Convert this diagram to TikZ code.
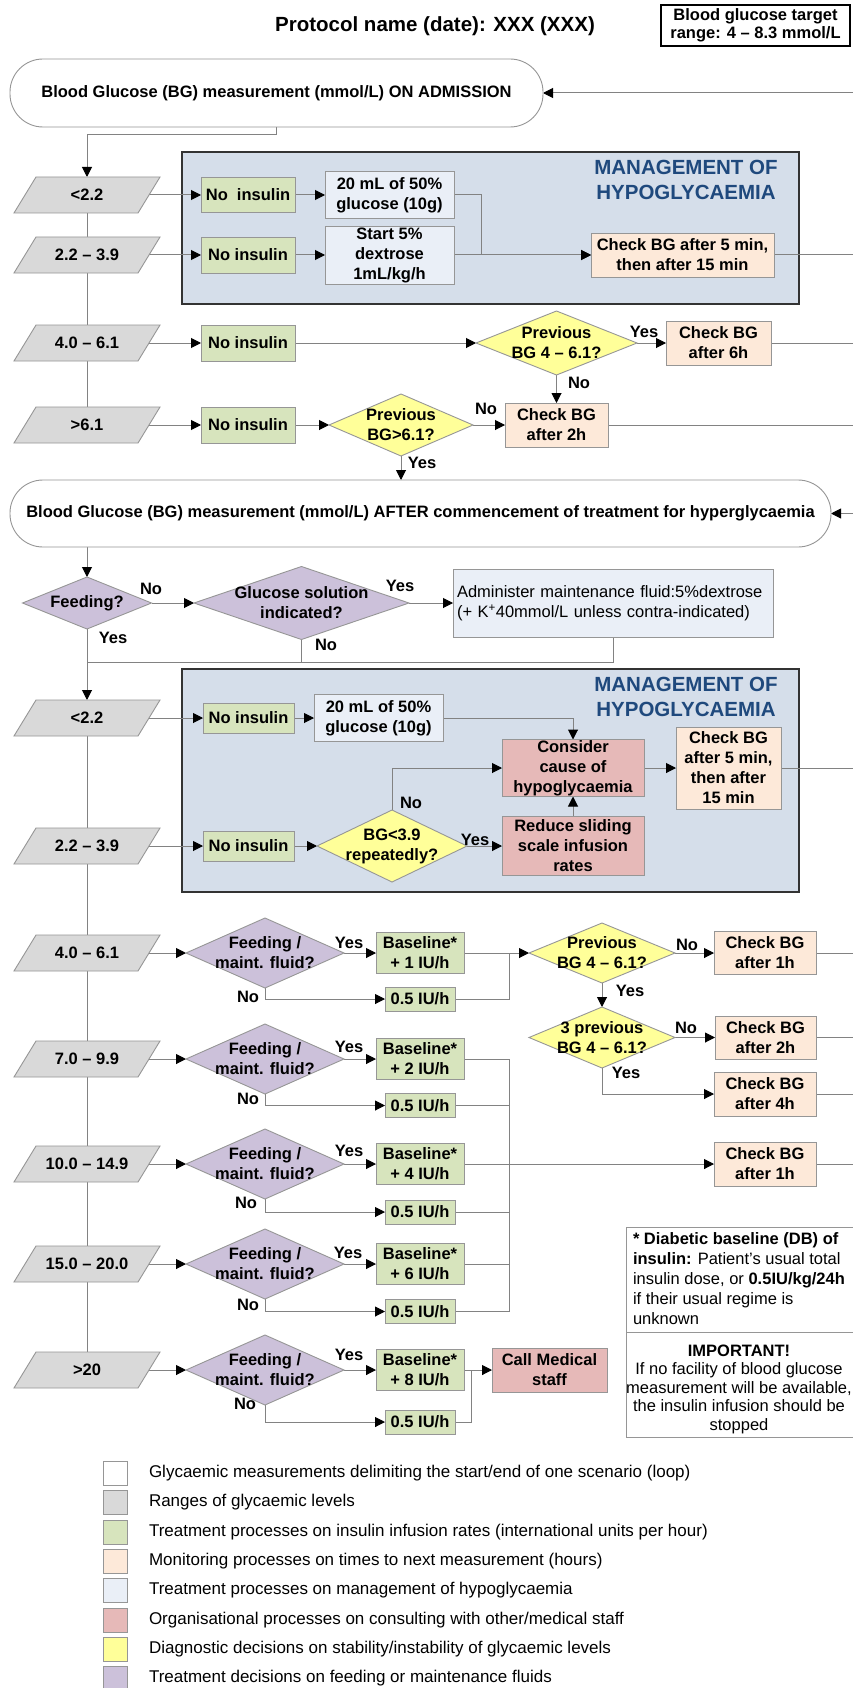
\documentclass[tikz,border=0pt]{standalone}
\usepackage{fontspec}
\setmainfont{Liberation Sans}
\usetikzlibrary{arrows.meta,calc}
\definecolor{linegrey}{RGB}{130,130,130}
\definecolor{bordergrey}{RGB}{150,150,150}
\definecolor{cgreen}{HTML}{D7E4BD}
\definecolor{cgrey}{HTML}{D9D9D9}
\definecolor{cpeach}{HTML}{FDE9D9}
\definecolor{clblue}{HTML}{EAEFF7}
\definecolor{cred}{HTML}{E6B9B8}
\definecolor{cyellow}{HTML}{FFFF99}
\definecolor{cpurple}{HTML}{CCC1DA}
\definecolor{hypofill}{HTML}{D5DEEA}
\definecolor{hypoblue}{HTML}{1F497D}
\pgfdeclarelayer{back}
\pgfdeclarelayer{mid}
\pgfsetlayers{back,mid,main}
\newcommand\fsz[2]{\fontsize{#1}{#2}\selectfont}
\newcommand\rangebox[3]{%
  \fill[cgrey,draw=bordergrey,line width=0.9pt] (14,#2+18) -- (36,#2-18) -- (160,#2-18) -- (138,#2+18) -- cycle;
  \node[txt,minimum width=124,minimum height=36] (#1) at (87,#2) {#3};}
\newcommand\diam[7]{%
  \fill[#6,draw=bordergrey,line width=0.9pt] (#2-#4/2,#3) -- (#2,#3-#5/2) -- (#2+#4/2,#3) -- (#2,#3+#5/2) -- cycle;
  \node[txt,minimum width=#4,minimum height=#5] (#1) at (#2,#3) {#7};}
\tikzset{
  every node/.style={inner sep=0pt,outer sep=0pt},
  txt/.style={font=\bfseries\fsz{16.5}{20},align=center},
  bx/.style={txt,draw=bordergrey,line width=0.9pt},
  gbox/.style={bx,fill=cgreen},
  pbox/.style={bx,fill=cpeach},
  lbbox/.style={bx,fill=clblue},
  rbox/.style={bx,fill=cred},
  lbl/.style={font=\bfseries\fsz{16.5}{20}},
  conn/.style={draw=linegrey,line width=1pt},
  flow/.style={conn,-{Triangle[length=10pt,width=10pt,color=black]}},
  hypo/.style={draw=black!80,line width=1.8pt,fill=hypofill},
  hypotitle/.style={font=\bfseries\fsz{20.5}{25},text=hypoblue,align=center},
  startnode/.style={txt,draw=bordergrey,line width=0.9pt,fill=white,rounded corners=33},
  leg/.style={draw=bordergrey,line width=0.9pt,minimum width=24,minimum height=24},
  legtxt/.style={font=\fsz{17}{20},anchor=west},
}
\begin{document}
\begin{tikzpicture}[x=1pt,y=-1pt]
\useasboundingbox (0,0) rectangle (853,1688);
\coordinate (edge) at (853,0);

% title and target
\node[font=\bfseries\fsz{20.5}{24}] (title) at (435,26) {Protocol name (date): XXX (XXX)};
\node[draw=black,line width=2.5pt,minimum width=189,minimum height=41,font=\bfseries\fsz{16.5}{18},align=center] (target) at (755.5,25.5) {Blood glucose target\\range: 4 – 8.3 mmol/L};

% hypo boxes
\begin{pgfonlayer}{back}
\fill[white] (0,0) rectangle (853,1688);
\node[hypo,minimum width=617,minimum height=152] (hypoA) at (490.5,228) {};
\node[hypo,minimum width=617,minimum height=223] (hypoB) at (490.5,780.5) {};
\end{pgfonlayer}
\node[hypotitle] (hypoAt) at (686,180) {MANAGEMENT OF\\HYPOGLYCAEMIA};
\node[hypotitle] (hypoBt) at (686,697) {MANAGEMENT OF\\HYPOGLYCAEMIA};

% start nodes
\node[startnode,minimum width=533,minimum height=68] (start1) at (276.5,93) {Blood Glucose (BG) measurement (mmol/L) ON ADMISSION};
\node[startnode,minimum width=821,minimum height=67] (start2) at (420.5,513.5) {Blood Glucose (BG) measurement (mmol/L) AFTER commencement of treatment for hyperglycaemia};

% section A
\rangebox{rangeA1}{195}{<2.2}
\rangebox{rangeA2}{255}{2.2 – 3.9}
\rangebox{rangeA3}{343}{4.0 – 6.1}
\rangebox{rangeA4}{425}{>6.1}
\node[gbox,minimum width=94,minimum height=35] (noinsA1) at (248,195) {No\ \ insulin};
\node[gbox,minimum width=94,minimum height=36] (noinsA2) at (248,255) {No insulin};
\node[lbbox,minimum width=129,minimum height=47] (glucA) at (389.5,195) {20 mL of 50\%\\glucose (10g)};
\node[lbbox,minimum width=129,minimum height=58] (dexA) at (389.5,255) {Start 5\%\\dextrose\\1mL/kg/h};
\node[pbox,minimum width=183,minimum height=44] (checkA) at (682.5,255) {Check BG after 5 min,\\then after 15 min};
\node[gbox,minimum width=94,minimum height=36] (noinsA3) at (248,343) {No insulin};
\diam{prevA}{556.5}{343}{161}{64}{cyellow}{Previous\\BG 4 – 6.1?}
\node[pbox,minimum width=105,minimum height=44] (check6) at (718.5,343) {Check BG\\after 6h};
\node[gbox,minimum width=94,minimum height=36] (noinsA4) at (248,425) {No insulin};
\diam{prevB}{401}{425}{144}{62}{cyellow}{Previous\\BG>6.1?}
\node[pbox,minimum width=103,minimum height=44] (check2h) at (556.5,425) {Check BG\\after 2h};

% feeding section
\diam{feedQ}{87}{603}{129}{52}{cpurple}{Feeding?}
\diam{glucQ}{301.5}{603}{215}{73}{cpurple}{Glucose solution\\indicated?}
\node[lbbox,font=\fsz{16.5}{20},align=left,text width=312,minimum width=320,minimum height=68] (admin) at (613,603) {Administer maintenance fluid:5\%dextrose\\(+ K\textsuperscript{+}40mmol/L unless contra-indicated)};
\coordinate (joinB) at (87,662);

% section B
\rangebox{rangeB1}{718}{<2.2}
\rangebox{rangeB2}{846}{2.2 – 3.9}
\node[gbox,minimum width=91,minimum height=30] (noinsB1) at (248.5,718) {No insulin};
\node[lbbox,minimum width=129,minimum height=47] (glucB) at (378.5,718) {20 mL of 50\%\\glucose (10g)};
\node[rbox,minimum width=142,minimum height=57] (consider) at (573,768) {Consider\\cause of\\hypoglycaemia};
\node[pbox,minimum width=105,minimum height=82] (checkB) at (728.5,768) {Check BG\\after 5 min,\\then after\\15 min};
\node[gbox,minimum width=91,minimum height=30] (noinsB2) at (248.5,846) {No insulin};
\diam{bgQ}{392}{846}{150}{72}{cyellow}{BG<3.9\\repeatedly?}
\node[rbox,minimum width=142,minimum height=59] (reduce) at (573,846) {Reduce sliding\\scale infusion\\rates};

% section C
\rangebox{rangeC1}{953}{4.0 – 6.1}
\rangebox{rangeC2}{1059}{7.0 – 9.9}
\rangebox{rangeC3}{1164}{10.0 – 14.9}
\rangebox{rangeC4}{1264}{15.0 – 20.0}
\rangebox{rangeC5}{1370}{>20}
\diam{feedC1}{265}{953}{158}{70}{cpurple}{Feeding /\\maint. fluid?}
\diam{feedC2}{265}{1059}{158}{70}{cpurple}{Feeding /\\maint. fluid?}
\diam{feedC3}{265}{1164}{158}{70}{cpurple}{Feeding /\\maint. fluid?}
\diam{feedC4}{265}{1264}{158}{70}{cpurple}{Feeding /\\maint. fluid?}
\diam{feedC5}{265}{1370}{158}{70}{cpurple}{Feeding /\\maint. fluid?}
\node[gbox,minimum width=88,minimum height=41] (baseC1) at (420,953) {Baseline*\\+ 1 IU/h};
\node[gbox,minimum width=88,minimum height=41] (baseC2) at (420,1059) {Baseline*\\+ 2 IU/h};
\node[gbox,minimum width=88,minimum height=41] (baseC3) at (420,1164) {Baseline*\\+ 4 IU/h};
\node[gbox,minimum width=88,minimum height=41] (baseC4) at (420,1264) {Baseline*\\+ 6 IU/h};
\node[gbox,minimum width=88,minimum height=41] (baseC5) at (420,1370) {Baseline*\\+ 8 IU/h};
\node[gbox,minimum width=70,minimum height=24] (halfC1) at (420,999) {0.5 IU/h};
\node[gbox,minimum width=70,minimum height=24] (halfC2) at (420,1105.5) {0.5 IU/h};
\node[gbox,minimum width=70,minimum height=24] (halfC3) at (420,1212) {0.5 IU/h};
\node[gbox,minimum width=70,minimum height=24] (halfC4) at (420,1311.5) {0.5 IU/h};
\node[gbox,minimum width=70,minimum height=24] (halfC5) at (420,1422) {0.5 IU/h};
\diam{prevC}{602}{953}{146}{60}{cyellow}{Previous\\BG 4 – 6.1?}
\diam{prev3}{602}{1037.5}{146}{61}{cyellow}{3 previous\\BG 4 – 6.1?}
\node[pbox,minimum width=102,minimum height=43] (check1h) at (765,953) {Check BG\\after 1h};
\node[pbox,minimum width=101,minimum height=43] (check2hb) at (765.5,1037.5) {Check BG\\after 2h};
\node[pbox,minimum width=102,minimum height=44] (check4h) at (765,1094) {Check BG\\after 4h};
\node[pbox,minimum width=102,minimum height=44] (check1hb) at (765,1164) {Check BG\\after 1h};
\node[rbox,minimum width=115,minimum height=44] (call) at (549.5,1370) {Call Medical\\staff};
\coordinate (busC1) at (509,953);
\coordinate (busT) at (509,1059);
\coordinate (busB) at (509,1311.5);
\coordinate (jC5) at (471,1370);

% labels
\node[lbl] (y1) at (644,332) {Yes};
\node[lbl] (n1) at (579,383) {No};
\node[lbl] (n2) at (486,409) {No};
\node[lbl] (y2) at (422,463) {Yes};
\node[lbl] (n3) at (151,589) {No};
\node[lbl] (y3) at (400,586) {Yes};
\node[lbl] (y4) at (113,638) {Yes};
\node[lbl] (n4) at (326,645) {No};
\node[lbl] (n5) at (411,803) {No};
\node[lbl] (y5) at (475,840) {Yes};
\node[lbl] (yc1) at (349,943) {Yes};
\node[lbl] (nc1) at (248,997) {No};
\node[lbl] (yc2) at (349,1047) {Yes};
\node[lbl] (nc2) at (248,1099) {No};
\node[lbl] (yc3) at (349,1151) {Yes};
\node[lbl] (nc3) at (246,1203) {No};
\node[lbl] (yc4) at (348,1253) {Yes};
\node[lbl] (nc4) at (248,1305) {No};
\node[lbl] (yc5) at (349,1355) {Yes};
\node[lbl] (nc5) at (245,1404) {No};
\node[lbl] (np1) at (687,945) {No};
\node[lbl] (yp1) at (630,991) {Yes};
\node[lbl] (np2) at (686,1028) {No};
\node[lbl] (yp2) at (626,1073) {Yes};

% notes
\node[draw=bordergrey,line width=0.9pt,minimum width=240,minimum height=105,anchor=north west] (noteA) at (626,1227) {};
\node[font=\fsz{16.5}{20},align=left,anchor=west] (noteAt) at (633,1279) {{\bfseries * Diabetic baseline (DB) of}\\{\bfseries insulin:} Patient’s usual total\\insulin dose, or {\bfseries 0.5IU/kg/24h}\\if their usual regime is\\unknown};
\node[draw=bordergrey,line width=0.9pt,minimum width=240,minimum height=105,anchor=north west] (noteB) at (626,1332) {};
\node[font=\fsz{16.5}{18.5},align=center] (noteBt) at (739,1389) {{\bfseries IMPORTANT!}\\If no facility of blood glucose\\measurement will be available,\\the insulin infusion should be\\stopped};

% legend
\node[leg,fill=white] (lg1) at (115,1473) {};
\node[leg,fill=cgrey] (lg2) at (115,1502) {};
\node[leg,fill=cgreen] (lg3) at (115,1532) {};
\node[leg,fill=cpeach] (lg4) at (115,1561) {};
\node[leg,fill=clblue] (lg5) at (115,1590) {};
\node[leg,fill=cred] (lg6) at (115,1620) {};
\node[leg,fill=cyellow] (lg7) at (115,1649) {};
\node[leg,fill=cpurple] (lg8) at (115,1678) {};
\node[legtxt] (lt1) at (149,1473) {Glycaemic measurements delimiting the start/end of one scenario (loop)};
\node[legtxt] (lt2) at (149,1502) {Ranges of glycaemic levels};
\node[legtxt] (lt3) at (149,1532) {Treatment processes on insulin infusion rates (international units per hour)};
\node[legtxt] (lt4) at (149,1561) {Monitoring processes on times to next measurement (hours)};
\node[legtxt] (lt5) at (149,1590) {Treatment processes on management of hypoglycaemia};
\node[legtxt] (lt6) at (149,1620) {Organisational processes on consulting with other/medical staff};
\node[legtxt] (lt7) at (149,1649) {Diagnostic decisions on stability/instability of glycaemic levels};
\node[legtxt] (lt8) at (149,1678) {Treatment decisions on feeding or maintenance fluids};

% connectors
\begin{pgfonlayer}{mid}
\draw[flow] (start1.east -| edge) -- (start1.east);
\draw[flow] (start1.south) -- ++(0,8) -| (rangeA1.north);
\draw[conn] (rangeA1.south) -- (rangeA4.north);
\draw[flow] (rangeA1.east) -- (noinsA1.west);
\draw[flow] (noinsA1.east) -- (glucA.west);
\draw[flow] (glucA.east) -- ++(27,0) |- (checkA.west);
\draw[flow] (rangeA2.east) -- (noinsA2.west);
\draw[flow] (noinsA2.east) -- (dexA.west);
\draw[flow] (dexA.east) -- (checkA.west);
\draw[conn] (checkA.east) -- (checkA.east -| edge);
\draw[flow] (rangeA3.east) -- (noinsA3.west);
\draw[flow] (noinsA3.east) -- (prevA.west);
\draw[flow] (prevA.east) -- (check6.west);
\draw[flow] (prevA.south) -- (check2h.north);
\draw[conn] (check6.east) -- (check6.east -| edge);
\draw[flow] (rangeA4.east) -- (noinsA4.west);
\draw[flow] (noinsA4.east) -- (prevB.west);
\draw[flow] (prevB.east) -- (check2h.west);
\draw[conn] (check2h.east) -- (check2h.east -| edge);
\draw[flow] (prevB.south) -- (prevB.south |- start2.north);
\draw[flow] (start2.east -| edge) -- (start2.east);
\draw[flow] (feedQ.north |- start2.south) -- (feedQ.north);
\draw[flow] (feedQ.east) -- (glucQ.west);
\draw[flow] (glucQ.east) -- (admin.west);
\draw[conn] (admin.south) |- (joinB);
\draw[conn] (glucQ.south) -- (glucQ.south |- joinB);
\draw[flow] (feedQ.south) -- (rangeB1.north);
\draw[conn] (rangeB1.south) -- (rangeC5.north);
\draw[flow] (rangeB1.east) -- (noinsB1.west);
\draw[flow] (noinsB1.east) -- (glucB.west);
\draw[flow] (glucB.east) -| (consider.north);
\draw[flow] (consider.east) -- (checkB.west);
\draw[conn] (checkB.east) -- (checkB.east -| edge);
\draw[flow] (rangeB2.east) -- (noinsB2.west);
\draw[flow] (noinsB2.east) -- (bgQ.west);
\draw[flow] (bgQ.east) -- (reduce.west);
\draw[flow] (bgQ.north) |- (consider.west);
\draw[flow] (reduce.north) -- (consider.south);
\foreach \k in {1,...,5}{
  \draw[flow] (rangeC\k.east) -- (feedC\k.west);
  \draw[flow] (feedC\k.east) -- (baseC\k.west);
  \draw[flow] (feedC\k.south) |- (halfC\k.west);
}
\draw[conn] (halfC1.east) -| (busC1);
\draw[flow] (baseC1.east) -- (prevC.west);
\draw[flow] (prevC.east) -- (check1h.west);
\draw[flow] (prevC.south) -- (prev3.north);
\draw[flow] (prev3.east) -- (check2hb.west);
\draw[flow] (prev3.south) |- (check4h.west);
\draw[conn] (check1h.east) -- (check1h.east -| edge);
\draw[conn] (check2hb.east) -- (check2hb.east -| edge);
\draw[conn] (check4h.east) -- (check4h.east -| edge);
\draw[conn] (baseC2.east) -- (busT) -- (busB) -- (halfC4.east);
\draw[conn] (halfC2.east) -- (halfC2.east -| busT);
\draw[conn] (halfC3.east) -- (halfC3.east -| busT);
\draw[conn] (baseC4.east) -- (baseC4.east -| busT);
\draw[flow] (baseC3.east) -- (check1hb.west);
\draw[conn] (check1hb.east) -- (check1hb.east -| edge);
\draw[flow] (baseC5.east) -- (call.west);
\draw[conn] (halfC5.east) -| (jC5);
\end{pgfonlayer}
\end{tikzpicture}
\end{document}
